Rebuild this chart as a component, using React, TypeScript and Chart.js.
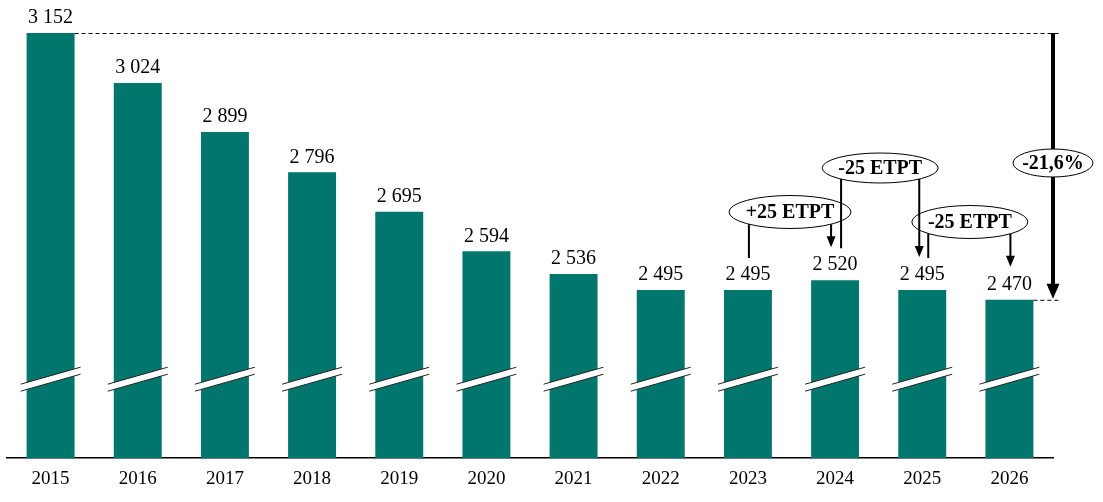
import React, { useEffect, useRef } from "react";
import { Chart, registerables } from "chart.js";

Chart.register(...registerables);

const categories = ["2015", "2016", "2017", "2018", "2019", "2020", "2021", "2022", "2023", "2024", "2025", "2026"];
const values = [3152, 3024, 2899, 2796, 2695, 2594, 2536, 2495, 2495, 2520, 2495, 2470];
const callouts = [
  { text: "+25 ETPT", from: 8, to: 9 },
  { text: "-25 ETPT", from: 9, to: 10 },
  { text: "-25 ETPT", from: 10, to: 11 },
];
const totalChange = "-21,6%";

const BAR_COLOR = "#00766c";
const FONT = "'Liberation Serif', 'Times New Roman', serif";

function fmt(v: number): string {
  const s = String(v);
  return s.length > 3 ? s.slice(0, s.length - 3) + " " + s.slice(s.length - 3) : s;
}

const overlayPlugin = {
  id: "overlay",
  afterDatasetsDraw(chart: any) {
    const ctx = chart.ctx;
    const meta = chart.getDatasetMeta(0);
    const bars = meta.data;
    const area = chart.chartArea;
    ctx.save();

    // break marks
    bars.forEach((b: any) => {
      const x0 = b.x - b.width / 2 - 6;
      const x1 = b.x + b.width / 2 + 6;
      const yl = area.bottom - 74;
      const yr = yl - 17;
      const t = 7;
      ctx.beginPath();
      ctx.moveTo(x0, yl);
      ctx.lineTo(x1, yr);
      ctx.lineTo(x1, yr + t);
      ctx.lineTo(x0, yl + t);
      ctx.closePath();
      ctx.fillStyle = "#ffffff";
      ctx.fill();
      ctx.strokeStyle = "#222";
      ctx.lineWidth = 1;
      ctx.beginPath();
      ctx.moveTo(x0, yl);
      ctx.lineTo(x1, yr);
      ctx.moveTo(x0, yl + t);
      ctx.lineTo(x1, yr + t);
      ctx.stroke();
    });

    // value labels
    ctx.fillStyle = "#000";
    ctx.font = `20px ${FONT}`;
    ctx.textAlign = "center";
    ctx.textBaseline = "middle";
    bars.forEach((b: any, i: number) => {
      ctx.fillText(fmt(values[i]), b.x, b.y - 15);
    });

    const ellipse = (cx: number, cy: number, rx: number, ry: number, text: string) => {
      ctx.beginPath();
      ctx.ellipse(cx, cy, rx, ry, 0, 0, Math.PI * 2);
      ctx.fillStyle = "#fff";
      ctx.fill();
      ctx.strokeStyle = "#000";
      ctx.lineWidth = 1;
      ctx.stroke();
      ctx.fillStyle = "#000";
      ctx.font = `bold 20px ${FONT}`;
      ctx.textAlign = "center";
      ctx.textBaseline = "middle";
      ctx.fillText(text, cx, cy + 1);
    };
    const edgeY = (cx: number, cy: number, rx: number, ry: number, x: number) => {
      const d = (x - cx) / rx;
      return cy + ry * Math.sqrt(Math.max(0, 1 - d * d));
    };
    const arrowHead = (x: number, tipY: number, w: number, l: number) => {
      ctx.beginPath();
      ctx.moveTo(x, tipY);
      ctx.lineTo(x - w / 2, tipY - l);
      ctx.lineTo(x + w / 2, tipY - l);
      ctx.closePath();
      ctx.fillStyle = "#000";
      ctx.fill();
    };

    // dashed reference lines + big arrow
    const first = bars[0];
    const last = bars[bars.length - 1];
    const ax = area.right;
    ctx.setLineDash([4, 3]);
    ctx.strokeStyle = "#000";
    ctx.lineWidth = 1;
    ctx.beginPath();
    ctx.moveTo(first.x + first.width / 2, first.y + 0.5);
    ctx.lineTo(ax + 6, first.y + 0.5);
    ctx.moveTo(last.x + last.width / 2, last.y + 0.5);
    ctx.lineTo(ax + 6, last.y + 0.5);
    ctx.stroke();
    ctx.setLineDash([]);
    ctx.lineWidth = 4;
    ctx.beginPath();
    ctx.moveTo(ax, first.y);
    ctx.lineTo(ax, last.y - 12);
    ctx.stroke();
    arrowHead(ax, last.y - 1, 13, 15);
    ellipse(ax, 163, 40, 14, totalChange);

    // callouts
    const specs = [
      { cy: 212, rx: 61, ry: 16.5, dx: -1.5, lineOff: 1, arrowOff: -4 },
      { cy: 168, rx: 58, ry: 15, dx: 1.5, lineOff: 6, arrowOff: -3 },
      { cy: 222, rx: 58, ry: 16.5, dx: 4, lineOff: 6, arrowOff: 1 },
    ];
    const geo = callouts.map((c, k) => {
      const s = specs[k];
      const bf = bars[c.from];
      const bt = bars[c.to];
      const cx = (bf.x + bt.x) / 2 + s.dx;
      return { c, s, bf, bt, cx };
    });
    geo.forEach((g) => ellipse(g.cx, g.s.cy, g.s.rx, g.s.ry, g.c.text));
    ctx.strokeStyle = "#000";
    ctx.lineWidth = 2;
    geo.forEach((g) => {
      const lx = g.bf.x + g.s.lineOff;
      const axx = g.bt.x + g.s.arrowOff;
      ctx.beginPath();
      ctx.moveTo(lx, edgeY(g.cx, g.s.cy, g.s.rx, g.s.ry, lx));
      ctx.lineTo(lx, g.bf.y - 32);
      const tip = g.bt.y - 33;
      ctx.moveTo(axx, edgeY(g.cx, g.s.cy, g.s.rx, g.s.ry, axx));
      ctx.lineTo(axx, tip - 8);
      ctx.stroke();
      arrowHead(axx, tip, 9, 11);
    });

    ctx.restore();
  },
};

export default function App() {
  const ref = useRef<HTMLCanvasElement | null>(null);
  useEffect(() => {
    if (!ref.current) return;
    const chart = new Chart(ref.current, {
      type: "bar",
      data: {
        labels: categories,
        datasets: [
          {
            data: values,
            backgroundColor: BAR_COLOR,
            borderWidth: 0,
            categoryPercentage: 1,
            barPercentage: 0.55,
          },
        ],
      },
      options: {
        animation: false,
        responsive: false,
        devicePixelRatio: 1,
        layout: { padding: { left: 7, right: 50, top: 33, bottom: 11 } },
        plugins: { legend: { display: false }, tooltip: { enabled: false } },
        scales: {
          x: {
            grid: { display: false },
            border: { display: true, color: "#000", width: 1.5 },
            ticks: { color: "#000", font: { family: FONT, size: 19 }, padding: 1, maxRotation: 0 },
          },
          y: { display: false, min: 2065, max: 3152 },
        },
      },
      plugins: [overlayPlugin],
    });
    return () => chart.destroy();
  }, []);
  return (
    <div style={{ position: "absolute", left: 0, top: 0, width: 1103, height: 502, background: "#fff" }}>
      <canvas ref={ref} width={1103} height={502} />
    </div>
  );
}
